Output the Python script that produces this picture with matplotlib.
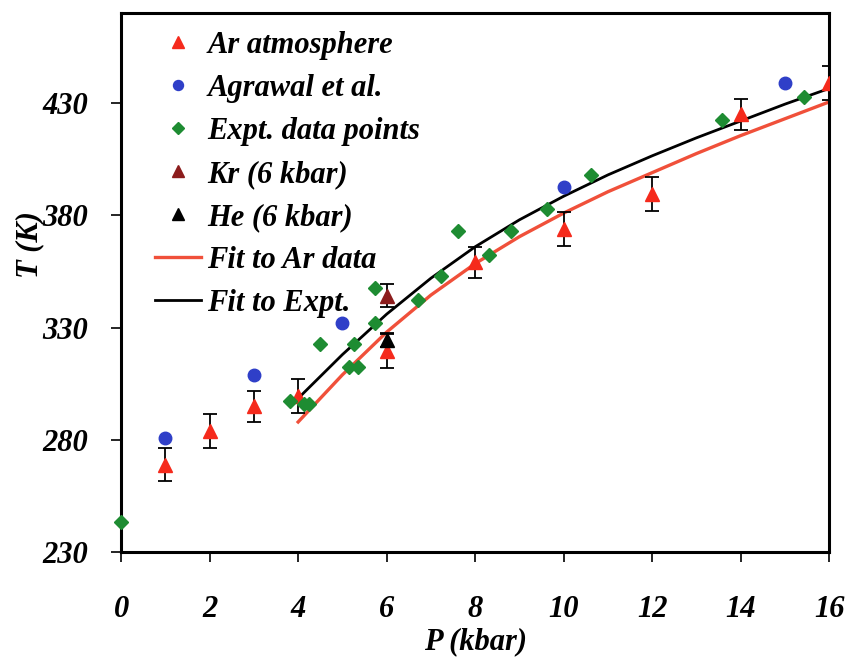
import numpy as np
import matplotlib.pyplot as plt

plt.rcParams['font.family'] = ['Liberation Serif', 'DejaVu Serif']
plt.rcParams['font.weight'] = 'bold'
plt.rcParams['font.style'] = 'italic'
plt.rcParams['axes.labelweight'] = 'bold'

# Ar atmosphere (with error bars)
ar_p = [1, 2, 3, 4, 6, 8, 10, 12, 14, 16]
ar_t = [269, 284, 295, 299.5, 319.5, 359, 374, 389.5, 425, 439]
ar_err = [7.5, 7.5, 7, 7.5, 7.5, 7, 7.5, 7.5, 7, 7.5]

# Agrawal et al.
ag_p = [1, 3, 5, 10, 15]
ag_t = [281, 309, 332, 392.5, 439]

# Expt. data points
ex_p = [0, 3.82, 4.14, 4.24, 4.5, 5.14, 5.26, 5.35, 5.73, 5.73,
        6.71, 7.22, 7.62, 8.31, 8.8, 9.63, 10.61, 13.58, 15.44]
ex_t = [243.5, 297.5, 296, 296, 322.5, 312.5, 322.5, 312.5, 332, 347.5,
        342.5, 353, 373, 362.5, 373, 383, 398, 422.5, 432.5]

# Kr and He at 6 kbar
kr_p, kr_t, kr_err = [6], [344.3], [5]
he_p, he_t, he_err = [6], [324.6], [3]

# fit curves
fit_p = [4, 5, 6, 7, 8, 9, 10, 11, 12, 13, 14, 15, 16]
fit_ar_t = [288, 309, 328, 344.5, 358.5, 370.5, 381, 390.5, 399, 407.5, 415.5, 423, 430.5]
fit_ex_t = [298.5, 318, 336, 352, 366, 378, 388.5, 398, 406.5, 414.5, 422, 429.5, 436.5]

fig = plt.figure(figsize=(8.47, 6.59), dpi=100)
ax = fig.add_axes([0.143, 0.162, 0.836, 0.818])

l_far, = ax.plot(fit_p, fit_ar_t, color='#f0503a', lw=2.4, zorder=2)
l_fex, = ax.plot(fit_p, fit_ex_t, color='black', lw=2.0, zorder=2)

ax.errorbar(ar_p, ar_t, yerr=ar_err, fmt='none', ecolor='black', elinewidth=1.3,
            capsize=5, capthick=1.3, zorder=3)
ax.errorbar(kr_p, kr_t, yerr=kr_err, fmt='none', ecolor='black', elinewidth=1.3,
            capsize=5, capthick=1.3, zorder=3)
ax.errorbar(he_p, he_t, yerr=he_err, fmt='none', ecolor='black', elinewidth=1.3,
            capsize=5, capthick=1.3, zorder=3)

m_ar, = ax.plot(ar_p, ar_t, '^', color='#f52a1c', ms=10, ls='none', zorder=4)
m_ag, = ax.plot(ag_p, ag_t, 'o', color='#2f3fc8', ms=9, ls='none', zorder=4)
m_ex, = ax.plot(ex_p, ex_t, 'D', color='#1e8c32', ms=7.5, ls='none', zorder=4, clip_on=False)
m_kr, = ax.plot(kr_p, kr_t, '^', color='#8c1c1c', ms=10, ls='none', zorder=4)
m_he, = ax.plot(he_p, he_t, '^', color='black', ms=10, ls='none', zorder=4)

ax.set_xlim(0, 16)
ax.set_ylim(230, 470)
ax.set_xticks(np.arange(0, 17, 2))
ax.set_yticks([230, 280, 330, 380, 430])

for s in ax.spines.values():
    s.set_linewidth(2.2)
ax.tick_params(axis='y', direction='out', length=7, width=1.2, labelsize=22, pad=17)
ax.tick_params(axis='x', direction='out', length=7, width=1.2, labelsize=22, pad=24)

ax.set_xlabel('P (kbar)', fontsize=22, labelpad=2)
ax.set_ylabel('T (K)', fontsize=22)
ax.yaxis.set_label_coords(-0.108, 0.57)

handles = [m_ar, m_ag, m_ex, m_kr, m_he, l_far, l_fex]
labels = ['Ar atmosphere', 'Agrawal et al.', 'Expt. data points', 'Kr (6 kbar)',
          'He (6 kbar)', 'Fit to Ar data', 'Fit to Expt.']
ax.legend(handles, labels, loc='upper left', bbox_to_anchor=(0.018, 1.007), frameon=False,
          fontsize=22, handlelength=1.5, handletextpad=0.2, labelspacing=0.46,
          borderaxespad=0.3, markerscale=0.8)

plt.savefig('out.png', dpi=100)
